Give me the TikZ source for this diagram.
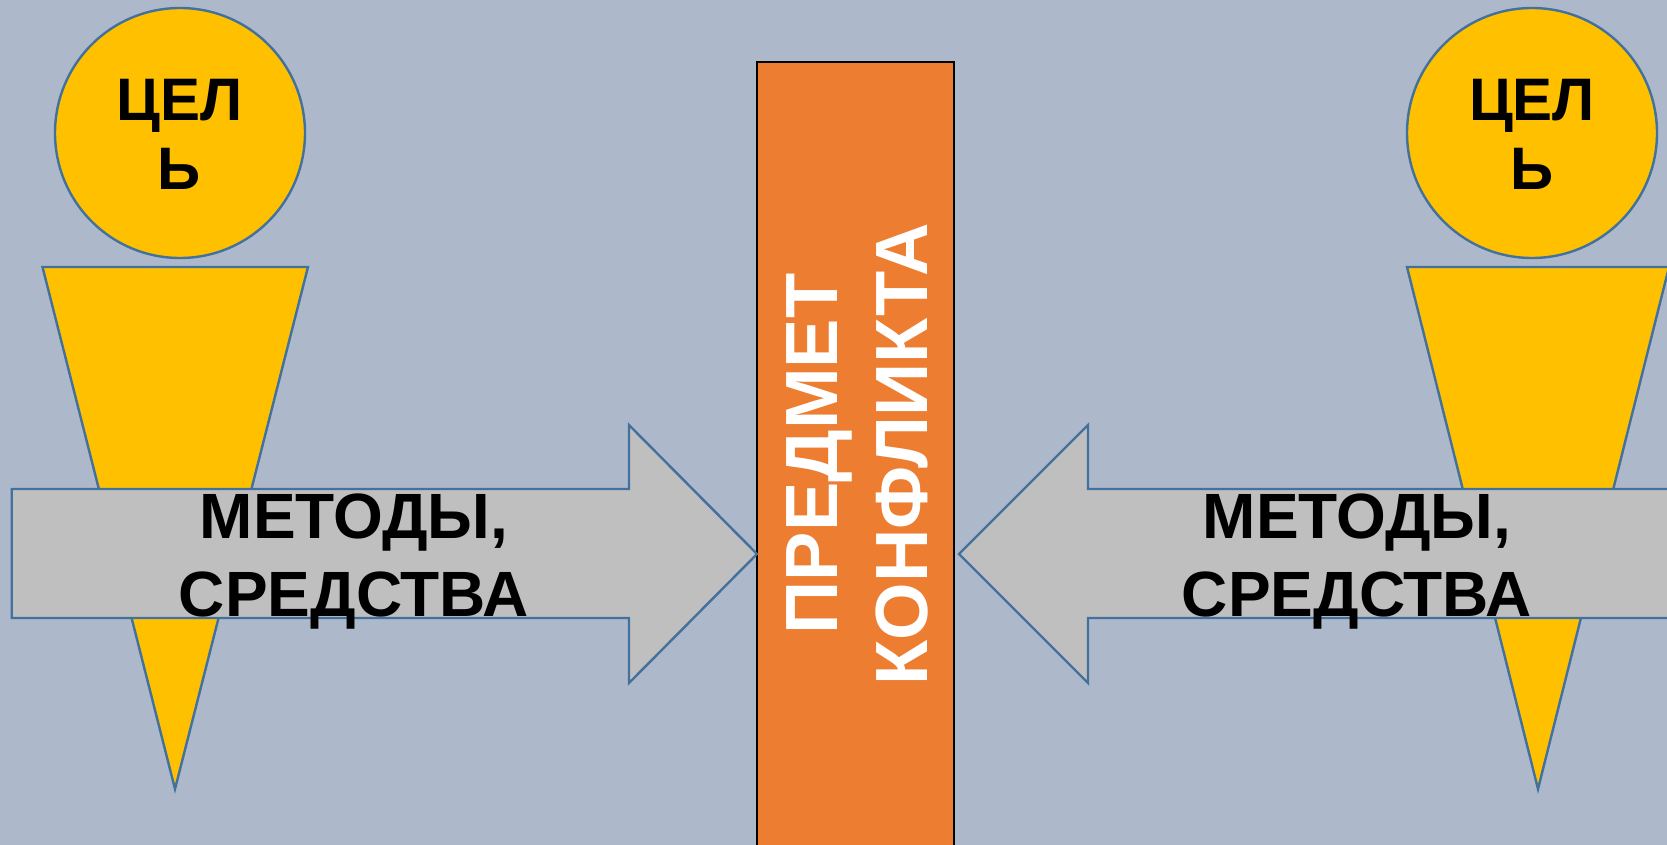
\documentclass[tikz,border=0pt]{standalone}
\usepackage{fontspec}
\setmainfont{Liberation Sans}
\definecolor{bg}{HTML}{ADB9CA}
\definecolor{gold}{HTML}{FFC000}
\definecolor{orng}{HTML}{ED7D31}
\definecolor{greyf}{HTML}{BFBFBF}
\definecolor{edge}{HTML}{41719C}
\tikzset{
  shapeline/.style={draw=edge, line width=2.4pt, line join=miter},
  headnode/.style={circle, fill=gold, shapeline, minimum size=250pt, inner sep=0pt},
  goaltext/.style={align=center, inner sep=0pt, font=\fontsize{60}{69}\selectfont\bfseries},
  methtext/.style={align=center, inner sep=0pt, font=\fontsize{64}{78}\selectfont\bfseries},
  subjtext/.style={align=center, inner sep=0pt, text=white, rotate=90, font=\fontsize{74}{90}\selectfont\bfseries}
}
\begin{document}
\begin{tikzpicture}[x=1pt,y=-1pt]
\useasboundingbox (0,0) rectangle (1667,845);
\clip (0,0) rectangle (1667,845);
\fill[bg] (0,0) rectangle (1667,845);
% bodies (triangles)
\coordinate (lapex) at (175,789);
\coordinate (rapex) at (1538,789);
\filldraw[fill=gold, shapeline] (42.5,267) -- (308,267) -- (lapex) -- cycle;
\filldraw[fill=gold, shapeline] (1407,267) -- (1669,267) -- (rapex) -- cycle;
% heads
\node[headnode] (lhead) at (180,133) {};
\node[headnode] (rhead) at (1532,133) {};
\node[goaltext] (lgoal) at (179.5,134) {ЦЕЛ\\Ь};
\node[goaltext] (rgoal) at (1532,134) {ЦЕЛ\\Ь};
% subject of conflict
\filldraw[fill=orng, draw=black, line width=2.5pt] (757,62) rectangle (954,860);
\node[subjtext] (subj) at (857,454) {ПРЕДМЕТ\\КОНФЛИКТА};
% arrows
\coordinate (ltip) at (757,554);
\coordinate (rtip) at (959,554);
\filldraw[fill=greyf, shapeline] (11.7,489) -- (629,489) -- (629,425) -- (ltip) -- (629,683) -- (629,618) -- (11.7,618) -- cycle;
\filldraw[fill=greyf, shapeline] (1680,489) -- (1088,489) -- (1088,425) -- (rtip) -- (1088,683) -- (1088,618) -- (1680,618) -- cycle;
\node[methtext] (lmeth) at (354,561.5) {МЕТОДЫ,\\СРЕДСТВА};
\node[methtext] (rmeth) at (1357,561.5) {МЕТОДЫ,\\СРЕДСТВА};
\end{tikzpicture}
\end{document}
